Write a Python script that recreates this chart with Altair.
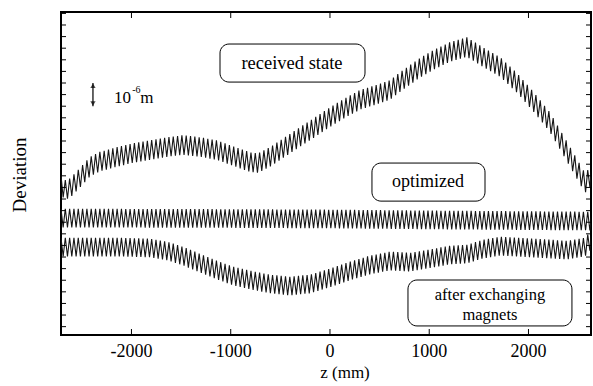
import numpy as np
import pandas as pd
import altair as alt

SERIF = "'Liberation Serif', 'Times New Roman', serif"

# axis range (z in mm, deviation in micrometres)
Z_MIN, Z_MAX = -2710, 2630
DEV_MIN, DEV_MAX = -4.86, 9.06
X_TICKS = [-2000, -1000, 0, 1000, 2000]
Y_TICKS = [round(-4.5 + 0.5 * k, 2) for k in range(28)]
X_TITLE = "z (mm)"
Y_TITLE = "Deviation"

# oscillation of the trajectory
PERIOD_MM = 43.5

# centre line of each trajectory (z in mm, deviation in um)
received_z = [-2710, -2670, -2620, -2520, -2420, -2320, -2150, -1985, -1815, -1640,
              -1480, -1310, -1140, -975, -805, -725, -605, -455, -300, -150,
              0, 150, 300, 455, 605, 705, 905, 1040, 1210, 1380,
              1540, 1715, 1885, 2045, 2215, 2390, 2570, 2630]
received_dev = [1.60, 1.39, 1.47, 1.91, 2.39, 2.61, 2.81, 2.98, 3.11, 3.24,
                3.33, 3.24, 3.11, 2.85, 2.59, 2.55, 2.81, 3.24, 3.68, 4.10,
                4.53, 4.92, 5.27, 5.48, 5.70, 6.04, 6.65, 6.99, 7.34, 7.55,
                7.12, 6.69, 6.00, 5.22, 4.32, 3.03, 1.69, 2.00]
received_amp = 0.42

optimized_z = [-2710, -1000, 0, 1000, 2630]
optimized_dev = [0.18, 0.16, 0.14, 0.10, 0.05]
optimized_amp = 0.40

exchanged_z = [-2710, -2490, -2115, -1815, -1640, -1480, -1310, -1140, -975, -805,
               -605, -405, -200, 0, 200, 405, 605, 805, 1040, 1210,
               1380, 1540, 1715, 2045, 2390, 2570, 2630]
exchanged_dev = [-1.07, -1.07, -1.07, -1.11, -1.24, -1.46, -1.76, -2.06, -2.32, -2.49,
                 -2.66, -2.75, -2.66, -2.40, -2.10, -1.84, -1.67, -1.72, -1.55, -1.41,
                 -1.37, -1.16, -1.03, -1.11, -1.20, -1.07, -0.77]
exchanged_amp = 0.40


def trace(name, zk, dk, amp):
    half = PERIOD_MM / 2
    z = np.arange(Z_MIN, Z_MAX + half, half)
    sign = np.where(np.arange(len(z)) % 2 == 0, 1.0, -1.0)
    dev = np.interp(z, zk, dk) + sign * amp
    return pd.DataFrame({"z": z, "dev": dev, "curve": name})


curves = pd.concat([
    trace("received", received_z, received_dev, received_amp),
    trace("optimized", optimized_z, optimized_dev, optimized_amp),
    trace("exchanged", exchanged_z, exchanged_dev, exchanged_amp),
])

# labelled boxes
boxes = pd.DataFrame({
    "z1": [-1108, 423, 786],
    "z2": [353, 1562, 2438],
    "d1": [7.68, 2.55, -2.49],
    "d2": [6.04, 0.91, -4.47],
})
box_text = pd.DataFrame({
    "z": [-383, 987, 1612, 1612],
    "dev": [6.86, 1.73, -3.12, -3.98],
    "label": ["received state", "optimized", "after exchanging", "magnets"],
    "fs": [18.5, 18, 16.5, 16.5],
})

# 1 um scale marker
scale_z = -2388
scale_lo, scale_hi = 5.0, 6.0

xs = alt.Scale(domain=[Z_MIN, Z_MAX], nice=False, zero=False)
ys = alt.Scale(domain=[DEV_MIN, DEV_MAX], nice=False, zero=False)
W, H = 530, 323


def X(field):
    return alt.X(field, type="quantitative", scale=xs, axis=None)


def Y(field):
    return alt.Y(field, type="quantitative", scale=ys, axis=None)


lines = alt.Chart(curves).mark_line(color="#161616", strokeWidth=1.1, clip=True).encode(
    x=X("z"), y=Y("dev"), detail="curve:N")

xt = pd.DataFrame({"z": X_TICKS, "label": [str(v) for v in X_TICKS]})
yt = pd.DataFrame({"dev": Y_TICKS})
tick_style = dict(color="black", strokeWidth=1)
bottom_ticks = alt.Chart(xt).mark_rule(**tick_style).encode(
    x=X("z"), y=alt.value(H), y2=alt.value(H - 6))
top_ticks = alt.Chart(xt).mark_rule(**tick_style).encode(
    x=X("z"), y=alt.value(0), y2=alt.value(6))
left_ticks = alt.Chart(yt).mark_rule(**tick_style).encode(
    y=Y("dev"), x=alt.value(0), x2=alt.value(5))
right_ticks = alt.Chart(yt).mark_rule(**tick_style).encode(
    y=Y("dev"), x=alt.value(W), x2=alt.value(W - 5))

tick_labels = alt.Chart(xt).mark_text(
    font=SERIF, fontSize=18, color="black", align="center", baseline="middle").encode(
    x=X("z"), y=alt.value(H + 17), text="label:N")
titles = pd.DataFrame({"t": [X_TITLE]})
x_title = alt.Chart(titles).mark_text(
    font=SERIF, fontSize=17, color="black", align="center", baseline="middle").encode(
    x=alt.value(284), y=alt.value(H + 38), text="t:N")
y_title = alt.Chart(pd.DataFrame({"t": [Y_TITLE]})).mark_text(
    font=SERIF, fontSize=19, color="black", align="center", baseline="middle",
    angle=270).encode(x=alt.value(-41), y=alt.value(163), text="t:N")

rects = alt.Chart(boxes).mark_rect(
    cornerRadius=9, fill="white", stroke="black", strokeWidth=1).encode(
    x=X("z1"), x2="z2:Q", y=Y("d1"), y2="d2:Q")
texts = alt.Chart(box_text).mark_text(
    font=SERIF, color="black", align="center", baseline="middle").encode(
    x=X("z"), y=Y("dev"), text="label:N",
    size=alt.Size("fs:Q", scale=None, legend=None))

bar = pd.DataFrame({"z": [scale_z], "lo": [scale_lo], "hi": [scale_hi]})
scale_rule = alt.Chart(bar).mark_rule(color="black", strokeWidth=1.2).encode(
    x=X("z"), y=Y("lo"), y2="hi:Q")
heads = pd.DataFrame({"z": [scale_z, scale_z], "dev": [scale_hi - 0.12, scale_lo + 0.12],
                      "shape": ["triangle-up", "triangle-down"]})
scale_heads = alt.Chart(heads).mark_point(filled=True, color="black", size=28).encode(
    x=X("z"), y=Y("dev"),
    shape=alt.Shape("shape:N", scale=None, legend=None))
unit_text = pd.DataFrame({
    "z": [-2176, -1992, -1912],
    "dev": [5.36, 5.68, 5.36],
    "t": ["10", "-6", "m"],
    "fs": [17, 10, 17],
})
scale_label = alt.Chart(unit_text).mark_text(
    font=SERIF, color="black", align="left", baseline="middle").encode(
    x=X("z"), y=Y("dev"), text="t:N",
    size=alt.Size("fs:Q", scale=None, legend=None))

chart = alt.layer(
    lines, rects, texts, bottom_ticks, top_ticks, left_ticks, right_ticks,
    tick_labels, x_title, y_title, scale_rule, scale_heads, scale_label,
).properties(
    width=W, height=H,
    autosize=alt.AutoSizeParams(type="none"),
    padding={"left": 61, "top": 12, "right": 2, "bottom": 51},
    background="white",
).configure_view(stroke="black", strokeWidth=2)

chart.save("out.html", embed_options={"renderer": "svg", "actions": False})
